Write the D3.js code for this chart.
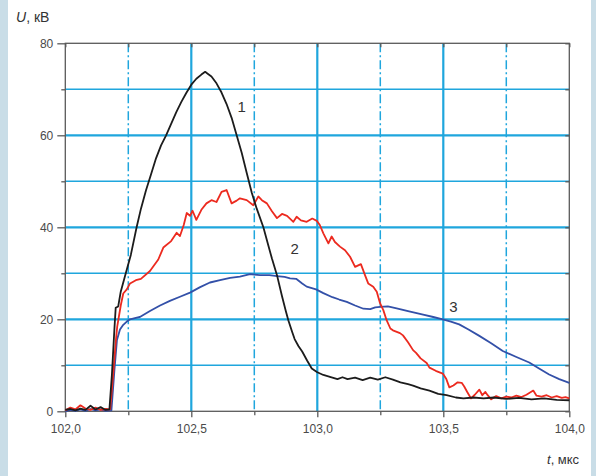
<!DOCTYPE html>
<html><head><meta charset="utf-8">
<script src="https://cdn.jsdelivr.net/npm/d3@7"></script>
<style>html,body{margin:0;padding:0;background:#fff;}svg{display:block;}</style>
</head><body>
<svg id="c" width="596" height="476"></svg>
<script>
// ---- data ----
const xMajorTicks = [102.0, 102.5, 103.0, 103.5, 104.0];
const xMinorTicks = [102.25, 102.75, 103.25, 103.75];
const yMajorTicks = [0, 20, 40, 60, 80];
const yMinorTicks = [10, 30, 50, 70];
const seriesNames = ["1", "2", "3"];

const curve1 = [[102.00,0.3],[102.02,0.5],[102.04,0.2],[102.06,0.6],[102.08,0.3],[102.10,1.2],[102.12,0.4],[102.14,0.9],[102.16,0.3],[102.175,0.4],[102.185,8],[102.195,18],[102.20,22.5],[102.21,22.8],[102.22,26],[102.24,30],[102.26,34],[102.283,40],[102.30,44],[102.32,48],[102.34,51.5],[102.36,55],[102.38,57.8],[102.40,60],[102.42,62.5],[102.44,65],[102.46,67.2],[102.48,69.2],[102.50,71],[102.52,72.3],[102.54,73.2],[102.555,73.8],[102.565,73.4],[102.58,72.8],[102.60,71.3],[102.62,69.3],[102.64,66.8],[102.66,63.8],[102.68,60],[102.70,56.2],[102.72,51.8],[102.74,47.5],[102.76,44],[102.786,40],[102.806,36],[102.82,33.2],[102.84,29.6],[102.86,25],[102.875,21.8],[102.885,19.8],[102.90,17.3],[102.91,15.7],[102.925,14.2],[102.94,13],[102.96,11],[102.978,9.3],[103.00,8.5],[103.024,7.9],[103.05,7.5],[103.08,7.0],[103.10,7.4],[103.12,7.0],[103.15,7.3],[103.18,6.8],[103.21,7.3],[103.24,6.9],[103.27,7.4],[103.30,6.9],[103.33,6.3],[103.36,5.9],[103.38,5.6],[103.41,5.0],[103.445,4.5],[103.48,3.8],[103.513,3.5],[103.55,3.0],[103.58,2.8],[103.62,3.0],[103.66,2.8],[103.70,3.0],[103.75,2.7],[103.80,2.9],[103.85,2.6],[103.90,2.8],[103.95,2.5],[104.0,2.4]];

const curve2 = [[102.00,0.2],[102.02,0.8],[102.04,0.4],[102.06,1.3],[102.08,0.6],[102.10,0.3],[102.12,0.8],[102.14,0.3],[102.16,0.5],[102.178,0.4],[102.19,8],[102.20,15],[102.206,18.4],[102.22,23],[102.23,25.6],[102.244,26.5],[102.257,27.8],[102.28,28.5],[102.30,28.8],[102.336,30.5],[102.369,33],[102.389,35.6],[102.42,37.0],[102.442,38.8],[102.455,38.1],[102.47,40.5],[102.482,43.1],[102.495,42.5],[102.505,43.6],[102.52,41.6],[102.54,43.8],[102.56,45.2],[102.58,45.9],[102.60,45.5],[102.62,47.7],[102.64,48.1],[102.66,45.2],[102.68,45.8],[102.693,46.3],[102.72,45.9],[102.746,44.8],[102.766,46.7],[102.78,45.9],[102.80,45.2],[102.82,43.5],[102.84,42.0],[102.86,42.9],[102.88,42.5],[102.905,41.2],[102.918,42.3],[102.935,41.5],[102.958,41.2],[102.98,41.9],[102.998,41.4],[103.01,40.5],[103.024,38.7],[103.044,36.5],[103.057,38.0],[103.07,36.8],[103.09,35.8],[103.11,35.0],[103.13,33.6],[103.15,31.4],[103.173,32.0],[103.19,29.5],[103.202,27.8],[103.222,27.1],[103.236,26.0],[103.249,23.5],[103.262,22.0],[103.275,19.8],[103.29,18.0],[103.30,17.6],[103.328,17.0],[103.34,16.5],[103.36,15.0],[103.38,13.3],[103.392,12.7],[103.41,11.5],[103.434,10.5],[103.445,9.5],[103.47,8.8],[103.498,8.2],[103.512,7.0],[103.524,5.2],[103.54,5.6],[103.557,6.3],[103.573,6.2],[103.583,5.4],[103.595,4.2],[103.61,2.8],[103.625,3.6],[103.643,4.7],[103.655,3.5],[103.667,4.2],[103.676,3.5],[103.69,2.6],[103.71,3.3],[103.73,2.8],[103.75,3.2],[103.77,3.0],[103.79,3.4],[103.81,3.1],[103.83,3.6],[103.857,4.5],[103.87,3.4],[103.89,3.2],[103.91,3.5],[103.93,3.0],[103.95,3.3],[103.97,2.9],[103.985,3.1],[104.0,2.8]];

const curve3 = [[102.00,0.0],[102.02,0.3],[102.04,0.1],[102.06,0.4],[102.08,0.1],[102.10,0.5],[102.12,0.2],[102.14,0.4],[102.16,0.1],[102.183,0.2],[102.195,9],[102.205,15.5],[102.217,17.8],[102.23,18.8],[102.244,19.5],[102.257,20.0],[102.28,20.3],[102.296,20.5],[102.336,21.8],[102.376,23.0],[102.415,24.0],[102.455,24.9],[102.495,25.8],[102.535,27.0],[102.574,28.0],[102.614,28.5],[102.654,29.0],[102.693,29.3],[102.733,29.8],[102.773,29.6],[102.81,29.6],[102.84,29.4],[102.87,29.2],[102.892,28.9],[102.916,28.8],[102.94,27.8],[102.958,27.1],[102.995,26.5],[103.024,25.7],[103.06,24.8],[103.087,24.3],[103.117,23.8],[103.15,23.0],[103.183,22.3],[103.21,22.2],[103.23,22.6],[103.25,22.7],[103.28,22.8],[103.315,22.4],[103.36,21.8],[103.42,21.0],[103.46,20.5],[103.498,20.0],[103.53,19.5],[103.563,18.9],[103.60,17.8],[103.643,16.4],[103.69,14.8],[103.736,13.1],[103.79,11.8],[103.841,10.6],[103.88,9.3],[103.92,8.0],[103.96,7.0],[104.0,6.2]];

// label anchor positions in data units
const labelPos = [[102.7, 66.2], [102.91, 35.3], [103.54, 22.7]];

// ---- drawing ----
const svg = d3.select("#c");
const m = {l: 65.3, r: 569.3, t: 43.3, b: 411.3};
const x = d3.scaleLinear().domain([102, 104]).range([m.l, m.r]);
const y = d3.scaleLinear().domain([0, 80]).range([m.b, m.t]);
const gridColor = "#1fa6dd";
const textColor = "#4a4a4a";
const fmtX = d => d3.format(".1f")(d).replace(".", ",");

svg.append("rect").attr("width", 596).attr("height", 476).attr("fill", "#fff");

// horizontal grid
const g = svg.append("g");
g.selectAll(".hmin").data(yMinorTicks).join("line")
  .attr("x1", m.l).attr("x2", m.r).attr("y1", d => y(d)).attr("y2", d => y(d))
  .attr("stroke", gridColor).attr("stroke-width", 1.5);
g.selectAll(".hmaj").data(yMajorTicks.slice(1, 4)).join("line")
  .attr("x1", m.l).attr("x2", m.r).attr("y1", d => y(d)).attr("y2", d => y(d))
  .attr("stroke", gridColor).attr("stroke-width", 2.2);
// vertical grid
g.selectAll(".vmin").data(xMinorTicks).join("line")
  .attr("x1", d => x(d)).attr("x2", d => x(d)).attr("y1", m.t).attr("y2", m.b)
  .attr("stroke", gridColor).attr("stroke-width", 1.5).attr("stroke-dasharray", "9,3,2,3");
g.selectAll(".vmaj").data(xMajorTicks.slice(1, 4)).join("line")
  .attr("x1", d => x(d)).attr("x2", d => x(d)).attr("y1", m.t).attr("y2", m.b)
  .attr("stroke", gridColor).attr("stroke-width", 2.2);

// frame
svg.append("rect").attr("x", m.l).attr("y", m.t).attr("width", m.r - m.l).attr("height", m.b - m.t)
  .attr("fill", "none").attr("stroke", "#5a5a5a").attr("stroke-width", 1.3);

function styleAxis(sel) {
  sel.select(".domain").remove();
  sel.selectAll("line").attr("stroke", "#5a5a5a").attr("stroke-width", 1.3);
  sel.selectAll("text").attr("fill", textColor).style("font-family", "'Liberation Sans', Arial, sans-serif").style("font-size", "12px");
}

svg.append("g").attr("transform", `translate(${m.l},0)`)
  .call(d3.axisLeft(y).tickValues(yMajorTicks).tickSize(8).tickPadding(4).tickFormat(d3.format("d")))
  .call(styleAxis);
svg.append("g").attr("transform", `translate(${m.l},0)`)
  .call(d3.axisLeft(y).tickValues(yMinorTicks).tickSize(4).tickFormat(""))
  .call(styleAxis);
svg.append("g").attr("transform", `translate(0,${m.b})`)
  .call(d3.axisBottom(x).tickValues(xMajorTicks).tickSize(6).tickPadding(7).tickFormat(fmtX))
  .call(styleAxis);
svg.append("g").attr("transform", `translate(0,${m.b})`)
  .call(d3.axisBottom(x).tickValues(xMinorTicks).tickSize(4).tickFormat(""))
  .call(styleAxis);
svg.append("g").attr("transform", `translate(${m.r},0)`)
  .call(d3.axisLeft(y).tickValues(yMajorTicks.concat(yMinorTicks)).tickSize(4).tickFormat(""))
  .call(styleAxis);
svg.append("g").attr("transform", `translate(0,${m.t})`)
  .call(d3.axisBottom(x).tickValues(xMajorTicks.concat(xMinorTicks)).tickSize(4).tickFormat(""))
  .call(styleAxis);

// curves
const line = d3.line().x(d => x(d[0])).y(d => y(d[1]));
const curves = [curve3, curve2, curve1];
const colors = ["#3350a8", "#ec2a1f", "#1c1c1c"];
svg.append("g").selectAll("path").data(curves).join("path")
  .attr("d", line).attr("fill", "none")
  .attr("stroke", (d, i) => colors[i]).attr("stroke-width", 1.8).attr("stroke-linejoin", "round");

// curve labels
svg.append("g").selectAll("text").data(labelPos).join("text")
  .attr("x", d => x(d[0])).attr("y", d => y(d[1])).attr("dy", "0.35em").attr("text-anchor", "middle")
  .attr("fill", "#333").style("font-family", "'Liberation Sans', Arial, sans-serif").style("font-size", "15px")
  .text((d, i) => seriesNames[i]);

// axis titles
const yt = svg.append("text").attr("x", 16).attr("y", 22).attr("fill", "#333")
  .style("font-family", "'Liberation Sans', Arial, sans-serif").style("font-size", "14px");
yt.append("tspan").style("font-style", "italic").text("U");
yt.append("tspan").text(", кВ");
const xt = svg.append("text").attr("x", 547).attr("y", 464).attr("fill", "#333")
  .style("font-family", "'Liberation Sans', Arial, sans-serif").style("font-size", "13px");
xt.append("tspan").style("font-style", "italic").text("t");
xt.append("tspan").text(", мкс");

// side strips
svg.append("rect").attr("x", 0).attr("y", 0).attr("width", 8).attr("height", 476).attr("fill", "#c9dde7");
svg.append("rect").attr("x", 591).attr("y", 0).attr("width", 5).attr("height", 476).attr("fill", "#c9dde7");
</script>
</body></html>
